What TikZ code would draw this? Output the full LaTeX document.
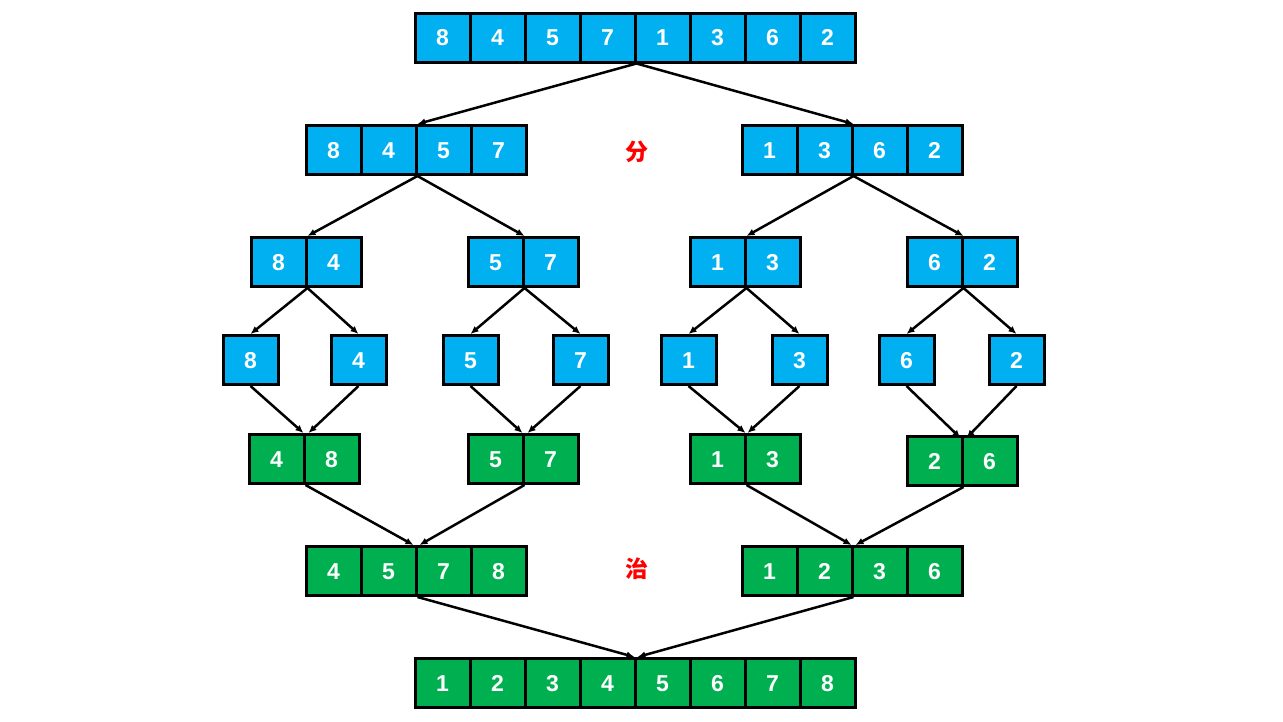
\documentclass[tikz,border=0pt]{standalone}
\usepackage{fontspec}
\setmainfont{Liberation Sans}
\newfontfamily\cjk{Noto Sans CJK SC}
\usetikzlibrary{arrows.meta}
\definecolor{cblue}{HTML}{00B0F0}
\definecolor{cgreen}{HTML}{00B050}
\tikzset{
  cellbox/.style={draw=black, line width=3pt, minimum width=55pt, minimum height=49pt, inner sep=0pt, text height=16.5pt, text depth=0pt, text=white, font=\fontsize{23}{23}\selectfont\bfseries},
  bcell/.style={cellbox, fill=cblue},
  gcell/.style={cellbox, fill=cgreen},
  conn/.style={line width=2.5pt, -{Latex[length=8pt,width=7pt]}},
  redlabel/.style={text=red, font=\cjk\fontsize{23}{23}\selectfont\bfseries}
}
\newcommand\cellrow[5]{%
  \foreach \v [count=\i] in {#5} {\node[#4] (#1\i) at ({#2+55*\i-27.5},#3) {\v};}%
}
\begin{document}
\begin{tikzpicture}[x=1pt,y=-1pt]
\useasboundingbox (0,0) rectangle (1283,721);
% row 1
\cellrow{a}{415}{37.5}{bcell}{8,4,5,7,1,3,6,2}
% row 2
\cellrow{b}{306}{150}{bcell}{8,4,5,7}
\cellrow{c}{742}{150}{bcell}{1,3,6,2}
\node[redlabel] (fen) at (637,152) {分};
% row 3
\cellrow{d}{251}{262}{bcell}{8,4}
\cellrow{e}{468}{262}{bcell}{5,7}
\cellrow{f}{690}{262}{bcell}{1,3}
\cellrow{g}{907}{262}{bcell}{6,2}
% row 4
\node[bcell] (s1) at (250.5,360) {8};
\node[bcell] (s2) at (358.5,360) {4};
\node[bcell] (s3) at (470.5,360) {5};
\node[bcell] (s4) at (580.5,360) {7};
\node[bcell] (s5) at (688.5,360) {1};
\node[bcell] (s6) at (799.5,360) {3};
\node[bcell] (s7) at (906.5,360) {6};
\node[bcell] (s8) at (1016.5,360) {2};
% row 5
\cellrow{h}{249}{459}{gcell}{4,8}
\cellrow{i}{468}{459}{gcell}{5,7}
\cellrow{j}{690}{459}{gcell}{1,3}
\cellrow{k}{907}{461}{gcell}{2,6}
% row 6
\cellrow{m}{306}{571}{gcell}{4,5,7,8}
\cellrow{n}{742}{571}{gcell}{1,2,3,6}
\node[redlabel] (zhi) at (637,569) {治};
% row 7
\cellrow{z}{415}{683}{gcell}{1,2,3,4,5,6,7,8}
% divide
\draw[conn] (a4.south east) -- (b2.north east);
\draw[conn] (a4.south east) -- (c2.north east);
\draw[conn] (b2.south east) -- (d1.north east);
\draw[conn] (b2.south east) -- (e1.north east);
\draw[conn] (c2.south east) -- (f1.north east);
\draw[conn] (c2.south east) -- (g1.north east);
\draw[conn] (d1.south east) -- (s1.north);
\draw[conn] (d1.south east) -- (s2.north);
\draw[conn] (e1.south east) -- (s3.north);
\draw[conn] (e1.south east) -- (s4.north);
\draw[conn] (f1.south east) -- (s5.north);
\draw[conn] (f1.south east) -- (s6.north);
\draw[conn] (g1.south east) -- (s7.north);
\draw[conn] (g1.south east) -- (s8.north);
% merge
\draw[conn] (s1.south) -- ([xshift=-2pt]h1.north east);
\draw[conn] (s2.south) -- ([xshift=3pt]h1.north east);
\draw[conn] (s3.south) -- ([xshift=-2pt]i1.north east);
\draw[conn] (s4.south) -- ([xshift=3pt]i1.north east);
\draw[conn] (s5.south) -- ([xshift=-1pt]j1.north east);
\draw[conn] (s6.south) -- ([xshift=1pt]j1.north east);
\draw[conn] (s7.south) -- ([xshift=-3pt,yshift=-3pt]k1.north east);
\draw[conn] (s8.south) -- ([xshift=3pt,yshift=-3pt]k1.north east);
\draw[conn] (h1.south east) -- ([xshift=-4pt]m2.north east);
\draw[conn] (i1.south east) -- ([xshift=2pt]m2.north east);
\draw[conn] (j1.south east) -- ([xshift=-2pt]n2.north east);
\draw[conn] (k1.south east) -- ([xshift=2pt]n2.north east);
\draw[conn] (m2.south east) -- ([xshift=-2pt]z4.north east);
\draw[conn] (n2.south east) -- ([xshift=1pt]z4.north east);
\end{tikzpicture}
\end{document}
